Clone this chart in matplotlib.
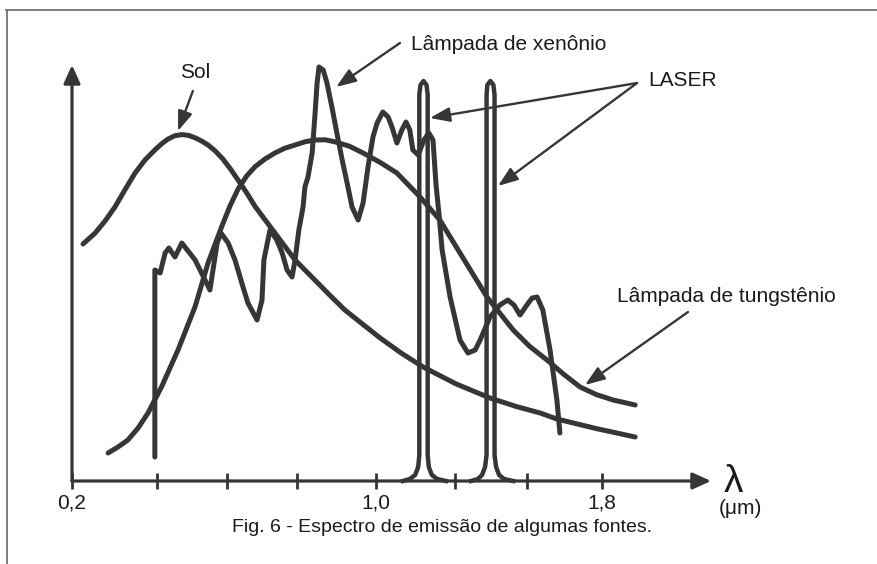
import matplotlib
matplotlib.use("Agg")
import matplotlib.pyplot as plt
from matplotlib.lines import Line2D

# Emission spectra (schematic): wavelength in um, relative intensity
SOL_X = [0.229, 0.261, 0.287, 0.313, 0.339, 0.366, 0.392, 0.418, 0.437, 0.453,
         0.470, 0.489, 0.507, 0.524, 0.541, 0.558, 0.577, 0.597, 0.617, 0.637,
         0.660, 0.682, 0.734, 0.787, 0.839, 0.880, 0.918, 0.965, 1.011, 1.066,
         1.124, 1.210, 1.300, 1.370, 1.432, 1.476, 1.580, 1.682]
SOL_Y = [59.25, 62.0, 65.0, 68.5, 72.75, 77.0, 80.25, 82.75, 84.4, 85.5,
         86.3, 86.6, 86.4, 85.8, 85.0, 84.0, 82.5, 80.5, 78.0, 75.25,
         72.0, 68.6, 62.0, 55.25, 50.25, 46.3, 42.75, 39.2, 35.75, 32.0,
         28.5, 24.3, 20.75, 18.6, 17.0, 15.5, 13.1, 11.0]

TUNG_X = [0.295, 0.321, 0.347, 0.374, 0.400, 0.436, 0.479, 0.524, 0.558, 0.594,
          0.616, 0.637, 0.660, 0.682, 0.708, 0.734, 0.760, 0.787, 0.813, 0.839,
          0.866, 0.892, 0.930, 0.966, 1.010, 1.055, 1.116, 1.168, 1.221, 1.292,
          1.361, 1.405, 1.450, 1.495, 1.537, 1.580, 1.624, 1.682]
TUNG_Y = [7.0, 8.5, 10.25, 13.25, 17.0, 23.6, 32.75, 43.6, 54.5, 63.6,
          68.8, 73.0, 76.3, 78.6, 80.5, 82.0, 83.2, 84.0, 84.8, 85.25,
          85.3, 84.8, 83.7, 82.0, 79.7, 77.0, 71.0, 65.25, 57.0, 46.0,
          37.75, 33.6, 30.25, 26.6, 23.5, 21.6, 20.25, 19.0]

XENON_X = [0.418, 0.418, 0.432, 0.445, 0.455, 0.471, 0.489, 0.524, 0.550, 0.563,
           0.571, 0.582, 0.592, 0.611, 0.629, 0.650, 0.663, 0.687, 0.700, 0.705,
           0.721, 0.739, 0.753, 0.766, 0.779, 0.787, 0.797, 0.808, 0.813, 0.821,
           0.832, 0.839, 0.845, 0.850, 0.861, 0.871, 0.884, 0.897, 0.911, 0.924,
           0.937, 0.953, 0.966, 0.979, 0.992, 1.003, 1.018, 1.032, 1.042, 1.055,
           1.068, 1.079, 1.089, 1.097, 1.111, 1.126, 1.139, 1.150, 1.158, 1.166,
           1.174, 1.195, 1.221, 1.242, 1.261, 1.274, 1.300, 1.326, 1.347, 1.363,
           1.379, 1.397, 1.411, 1.424, 1.439, 1.458, 1.476, 1.484]
XENON_Y = [6.0, 52.75, 52.0, 57.0, 58.25, 56.0, 59.5, 55.25, 50.25, 47.75,
           52.75, 59.5, 62.0, 59.5, 55.25, 48.5, 44.5, 40.25, 45.25, 55.25,
           62.75, 60.25, 57.0, 52.75, 51.0, 55.25, 62.75, 68.5, 73.5, 76.0,
           82.0, 91.0, 99.5, 103.5, 102.75, 99.5, 93.5, 87.0, 80.25, 74.5,
           68.5, 65.25, 69.5, 78.5, 86.0, 89.5, 92.25, 91.0, 88.5, 84.5,
           87.75, 89.75, 87.75, 82.75, 81.5, 85.25, 87.0, 85.25, 74.0, 66.5,
           57.75, 46.0, 35.25, 32.0, 32.75, 35.25, 41.0, 44.0, 45.25, 44.0,
           41.5, 44.0, 45.75, 46.0, 42.75, 32.75, 20.25, 12.0]

LASER1_X = [1.071, 1.089, 1.103, 1.111, 1.114, 1.114, 1.117, 1.125, 1.133, 1.136,
            1.136, 1.139, 1.147, 1.161, 1.184]
LASER2_X = [1.250, 1.268, 1.279, 1.287, 1.291, 1.291, 1.293, 1.301, 1.309, 1.312,
            1.312, 1.316, 1.324, 1.337, 1.361]
LASER_Y = [0.0, 0.5, 1.5, 3.5, 6.5, 96.5, 99.0, 100.0, 99.0, 96.5,
           6.5, 3.5, 1.5, 0.5, 0.0]

TICK_POS = [0.2, 0.424, 0.608, 0.792, 1.0, 1.208, 1.397, 1.595]
TICK_LABELS = ["0,2", "", "", "", "1,0", "", "", "1,8"]

INK = "#363636"
TEXT = "#1a1a1a"

plt.rcParams["font.family"] = ["Liberation Sans", "DejaVu Sans"]

fig = plt.figure(figsize=(8.78, 5.64), dpi=100)
ax = fig.add_axes([72 / 878, 83 / 564, 639 / 878, 416 / 564])
ax.set_xlim(0.2, 0.2 + 639 / 380)
ax.set_ylim(0, 104)
for side in ax.spines.values():
    side.set_visible(False)

# axes drawn as arrows
axis_arrow = dict(arrowstyle="-|>,head_length=0.55,head_width=0.25", color=INK,
                  lw=2.3, mutation_scale=20, shrinkA=0, shrinkB=0)
ax.annotate("", xy=(1, 0), xytext=(0, 0), xycoords="axes fraction",
            arrowprops=axis_arrow, annotation_clip=False)
ax.annotate("", xy=(0, 1), xytext=(0, 0), xycoords="axes fraction",
            arrowprops=axis_arrow, annotation_clip=False)

ax.set_xticks(TICK_POS)
ax.set_xticklabels(TICK_LABELS)
ax.set_yticks([])
ax.tick_params(axis="x", direction="inout", length=12, width=2.0, color=INK,
               labelsize=15, labelcolor=TEXT, pad=3)

line_kw = dict(color=INK, lw=3.6, solid_joinstyle="round", solid_capstyle="round",
               clip_on=False)
ax.plot(SOL_X, SOL_Y, **line_kw)
ax.plot(TUNG_X, TUNG_Y, **line_kw)
ax.plot(XENON_X, XENON_Y, **line_kw)
ax.plot(LASER1_X, LASER_Y, color=INK, lw=3.2, solid_joinstyle="round", clip_on=False)
ax.plot(LASER2_X, LASER_Y, color=INK, lw=3.2, solid_joinstyle="round", clip_on=False)

# labels with pointer arrows
pointer = dict(arrowstyle="-|>,head_length=0.6,head_width=0.22", color=INK,
               lw=1.7, mutation_scale=20, shrinkA=0, shrinkB=0)
label_kw = dict(fontsize=15, color=TEXT, va="center", clip_on=False)

ax.text(0.524, 102.0, "Sol", ha="center", **label_kw)
ax.annotate("", xy=(0.479, 87.5), xytext=(0.518, 97.5), arrowprops=pointer,
            annotation_clip=False)

ax.text(1.092, 109.25, "Lâmpada de xenônio", ha="left", **label_kw)
ax.annotate("", xy=(0.895, 98.5), xytext=(1.063, 109.5), arrowprops=pointer,
            annotation_clip=False)

ax.text(1.716, 100.25, "LASER", ha="left", **label_kw)
ax.annotate("", xy=(1.142, 90.75), xytext=(1.687, 99.5), arrowprops=pointer,
            annotation_clip=False)
ax.annotate("", xy=(1.321, 73.75), xytext=(1.687, 99.5), arrowprops=pointer,
            annotation_clip=False)

ax.text(1.634, 46.0, "Lâmpada de tungstênio", ha="left", **label_kw)
ax.annotate("", xy=(1.55, 24.0), xytext=(1.821, 42.25), arrowprops=pointer,
            annotation_clip=False)

fig.text(733 / 878, 1 - 482 / 564, "λ", fontsize=28, color=TEXT,
         ha="center", va="center")
fig.text(740 / 878, 1 - 508 / 564, "(μm)", fontsize=15, color=TEXT,
         ha="center", va="center")

fig.text(442 / 878, 1 - 528 / 564, "Fig. 6 - Espectro de emissão de algumas fontes.",
         fontsize=14, color=TEXT, ha="center", va="center")

# frame lines of the figure box
fig.add_artist(Line2D([6 / 878, 1], [1 - 10 / 564, 1 - 10 / 564],
                      transform=fig.transFigure, color="#6a6a6a", lw=1.2))
fig.add_artist(Line2D([7 / 878, 7 / 878], [0, 1 - 10 / 564],
                      transform=fig.transFigure, color="#6a6a6a", lw=1.2))

fig.savefig("out.png", dpi=100, facecolor="white")
